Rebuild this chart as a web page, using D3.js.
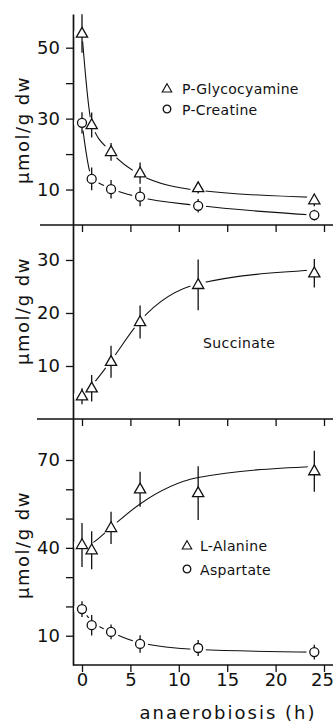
<!DOCTYPE html>
<html lang="en">
<head>
<meta charset="UTF-8">
<title>Anaerobiosis metabolites</title>
<script src="https://cdn.jsdelivr.net/npm/d3@7/dist/d3.min.js"></script>
<style>
  html, body { margin: 0; padding: 0; background: #fff; }
  svg text { font-family: "DejaVu Sans", sans-serif; fill: #111; }
</style>
</head>
<body>
<svg id="main" width="335" height="726"></svg>
<script>
// hours of anaerobiosis
var times = [0, 1, 3, 6, 12, 24];
var xTicks = [0, 5, 10, 15, 20, 25];

// panel 1
var glycocyamine    = [54, 28.2, 20.6, 14.6, 10.4, 7.0];
var glycocyamineErr = [5.4, 3.5, 2.5, 3, 1.5, 1.7];
var glycocyamineFit = [54, 28.5, 20.6, 14.2, 9.8, 7.8];
var creatine    = [28.8, 13, 10.1, 8, 5.4, 2.8];
var creatineErr = [3, 3.2, 2.6, 2.7, 1.9, 1.5];
var creatineFit = [28.8, 13.5, 10.3, 7.8, 5.5, 2.8];

// panel 2
var succinate    = [4.3, 5.8, 10.8, 18.3, 25.3, 27.5];
var succinateErr = [1.5, 2.5, 3, 3.1, 4.8, 2.7];
var succinateFit = [4.3, 6.3, 11, 18.5, 25.5, 28.1];

// panel 3
var alanine    = [41, 39.2, 46.8, 60, 58.7, 66.2];
var alanineErr = [7.5, 6.5, 5.5, 6, 9.2, 7];
var alanineFit = [40, 41.5, 47, 55, 64, 67.8];
var aspartate    = [19.1, 13.6, 11.3, 7.2, 5.8, 4.4];
var aspartateErr = [2.7, 3.5, 2.5, 3, 2.7, 2.5];
var aspartateFit = [19, 15, 11.3, 7.6, 5.3, 4.4];

var yTicks1 = [10, 20, 30, 40, 50], yLabels1 = [10, 30, 50];
var yTicks2 = [10, 20, 30],         yLabels2 = [10, 20, 30];
var yTicks3 = [10, 20, 30, 40, 50, 60, 70], yLabels3 = [10, 40, 70];

var svg = d3.select('svg#main');
var axisX = 73;
var ink = '#111';

var x = d3.scaleLinear().domain([0, 25]).range([82, 324]);

function pack(vals, errs, fit) {
    return times.map(function(t, i) {
        return { t: t, v: vals[i], e: errs[i], f: fit[i] };
    });
}

var panels = [
    { top: 14, bottom: 225, max: 59.5, ticks: yTicks1, labels: yLabels1, baseLeft: 40, labelY: 130,
      series: [ { shape: 'tri', data: pack(glycocyamine, glycocyamineErr, glycocyamineFit) },
                { shape: 'circ', data: pack(creatine, creatineErr, creatineFit) } ] },
    { top: 225, bottom: 419, max: 36.6, ticks: yTicks2, labels: yLabels2, baseLeft: 37, labelY: 311,
      series: [ { shape: 'tri', data: pack(succinate, succinateErr, succinateFit) } ] },
    { top: 419, bottom: 665, max: 84, ticks: yTicks3, labels: yLabels3, baseLeft: 73, labelY: 545,
      series: [ { shape: 'tri', data: pack(alanine, alanineErr, alanineFit) },
                { shape: 'circ', data: pack(aspartate, aspartateErr, aspartateFit) } ] }
];

var triPath = 'M0,-6.2L5.6,3.6L-5.6,3.6Z';

function marker(sel, shape, size) {
    var k = size || 1;
    if (shape === 'tri') {
        sel.append('path').attr('d', triPath).attr('transform', 'scale(' + k + ')')
            .attr('fill', '#fff').attr('stroke', ink).attr('stroke-width', 1.3);
    } else {
        sel.append('circle').attr('r', 4.5 * k)
            .attr('fill', '#fff').attr('stroke', ink).attr('stroke-width', 1.3);
    }
}

panels.forEach(function(p, pi) {
    var y = d3.scaleLinear().domain([0, p.max]).range([p.bottom, p.top]);
    var last = pi === panels.length - 1;

    // y axis
    var ya = svg.append('g').attr('transform', 'translate(' + axisX + ',0)')
        .call(d3.axisLeft(y).tickValues(p.ticks).tickSize(7).tickSizeOuter(0).tickPadding(6)
            .tickFormat(function(d) { return p.labels.indexOf(d) >= 0 ? d : ''; }));
    ya.select('.domain').attr('stroke', ink).attr('stroke-width', 1.7);
    ya.selectAll('.tick line').attr('stroke', ink).attr('stroke-width', 1.3);
    ya.selectAll('.tick text').style('font-size', '18px').attr('fill', ink);

    // baseline with ticks
    svg.append('line').attr('x1', p.baseLeft).attr('x2', 333)
        .attr('y1', p.bottom).attr('y2', p.bottom)
        .attr('stroke', ink).attr('stroke-width', 1.6);
    var xa = svg.append('g').attr('transform', 'translate(0,' + p.bottom + ')')
        .call(d3.axisBottom(x).tickValues(xTicks).tickSize(7).tickPadding(1)
            .tickFormat(last ? d3.format('d') : function() { return ''; }));
    xa.select('.domain').remove();
    xa.selectAll('.tick line').attr('stroke', ink).attr('stroke-width', 1.3);
    xa.selectAll('.tick text').style('font-size', '18px').attr('fill', ink)
        .attr('dx', function(d) { return d === 25 ? -2 : 0; });

    // y label
    svg.append('text')
        .attr('transform', 'translate(29,' + p.labelY + ') rotate(-90)')
        .attr('text-anchor', 'middle')
        .style('font-size', '18px').style('letter-spacing', '1.5px')
        .text('\u00b5mol/g dw');

    var line = d3.line()
        .x(function(d) { return x(d.t); })
        .y(function(d) { return y(d.f); })
        .curve(d3.curveMonotoneX);

    p.series.forEach(function(s) {
        svg.append('path').datum(s.data).attr('d', line)
            .attr('fill', 'none').attr('stroke', ink).attr('stroke-width', 1.1);
    });
    // white gaps around the points
    p.series.forEach(function(s) {
        svg.append('g').selectAll('circle').data(s.data).enter().append('circle')
            .attr('cx', function(d) { return x(d.t); })
            .attr('cy', function(d) { return y(d.v); })
            .attr('r', 8).attr('fill', '#fff');
    });
    p.series.forEach(function(s) {
        svg.append('g').selectAll('line').data(s.data).enter().append('line')
            .attr('x1', function(d) { return x(d.t); })
            .attr('x2', function(d) { return x(d.t); })
            .attr('y1', function(d) { return y(d.v + d.e); })
            .attr('y2', function(d) { return y(d.v - d.e); })
            .attr('stroke', ink).attr('stroke-width', 1.3);
        svg.append('g').selectAll('g').data(s.data).enter().append('g')
            .attr('transform', function(d) { return 'translate(' + x(d.t) + ',' + y(d.v) + ')'; })
            .each(function() { marker(d3.select(this), s.shape); });
    });
});

// legends and labels
function legendItem(shape, mx, my, tx, ty, label) {
    var g = svg.append('g').attr('transform', 'translate(' + mx + ',' + my + ')');
    marker(g, shape, 0.85);
    svg.append('text').attr('x', tx).attr('y', ty)
        .style('font-size', '14px').style('letter-spacing', '0.3px').text(label);
}
legendItem('tri', 167, 89, 182, 94, 'P-Glycocyamine');
legendItem('circ', 167, 109, 182, 115, 'P-Creatine');
legendItem('tri', 187, 546, 200, 551, 'L-Alanine');
legendItem('circ', 187, 569, 200, 575, 'Aspartate');

svg.append('text').attr('x', 203).attr('y', 348)
    .style('font-size', '14px').style('letter-spacing', '0.4px').text('Succinate');

svg.append('text').attr('x', 228).attr('y', 719).attr('text-anchor', 'middle')
    .style('font-size', '18px').style('letter-spacing', '2px').text('anaerobiosis (h)');
</script>
</body>
</html>
